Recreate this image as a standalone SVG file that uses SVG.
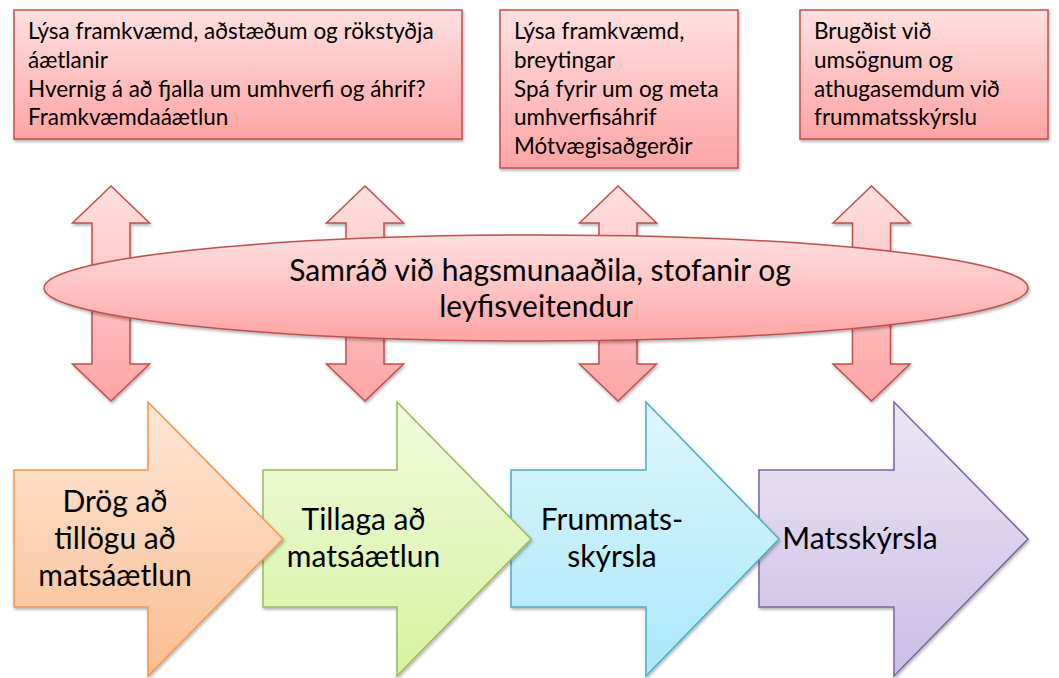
<svg xmlns="http://www.w3.org/2000/svg" width="1059" height="678" viewBox="0 0 1059 678">
  <defs>
    <linearGradient id="gRed" x1="0" y1="0" x2="0" y2="1">
      <stop offset="0" stop-color="#FFE0E0"/>
      <stop offset="1" stop-color="#FFA4A4"/>
    </linearGradient>
    <linearGradient id="gOrange" x1="0" y1="0" x2="0" y2="1">
      <stop offset="0" stop-color="#FDE8D8"/>
      <stop offset="1" stop-color="#FABD92"/>
    </linearGradient>
    <linearGradient id="gGreen" x1="0" y1="0" x2="0" y2="1">
      <stop offset="0" stop-color="#F1FADF"/>
      <stop offset="1" stop-color="#D6F2A0"/>
    </linearGradient>
    <linearGradient id="gBlue" x1="0" y1="0" x2="0" y2="1">
      <stop offset="0" stop-color="#DFF6FD"/>
      <stop offset="1" stop-color="#A9E7FA"/>
    </linearGradient>
    <linearGradient id="gPurple" x1="0" y1="0" x2="0" y2="1">
      <stop offset="0" stop-color="#ECE6F5"/>
      <stop offset="1" stop-color="#CCBDE5"/>
    </linearGradient>
    <filter id="shadow" x="-10%" y="-10%" width="120%" height="130%">
      <feDropShadow dx="1" dy="2" stdDeviation="1.5" flood-color="#000" flood-opacity="0.3"/>
    </filter>
  </defs>
  <style>
    .red { fill: url(#gRed); stroke: #C0504D; stroke-width: 1.5; filter: url(#shadow); }
    .box-text { font-family: Lato, "Liberation Sans", sans-serif; font-size: 22.5px; fill: #000; }
    .big-text { font-family: Lato, "Liberation Sans", sans-serif; font-size: 30px; fill: #000; text-anchor: middle; }
    .orange { fill: url(#gOrange); stroke: #F79646; stroke-width: 1.5; filter: url(#shadow); }
    .green { fill: url(#gGreen); stroke: #9BBB59; stroke-width: 1.5; filter: url(#shadow); }
    .blue { fill: url(#gBlue); stroke: #4BACC6; stroke-width: 1.5; filter: url(#shadow); }
    .purple { fill: url(#gPurple); stroke: #8064A2; stroke-width: 1.5; filter: url(#shadow); }
  </style>
  <rect width="1059" height="678" fill="#FFFFFF"/>

  <!-- Top text boxes -->
  <g id="box1">
    <rect class="red" x="14" y="10" width="448" height="129"/>
    <text class="box-text" x="28" y="39">Lýsa framkvæmd, aðstæðum og rökstyðja</text>
    <text class="box-text" x="28" y="68">áætlanir</text>
    <text class="box-text" x="28" y="96.5">Hvernig á að fjalla um umhverfi og áhrif?</text>
    <text class="box-text" x="28" y="125">Framkvæmdaáætlun</text>
  </g>
  <g id="box2">
    <rect class="red" x="500" y="10" width="238" height="158"/>
    <text class="box-text" x="514" y="39">Lýsa framkvæmd,</text>
    <text class="box-text" x="514" y="68">breytingar</text>
    <text class="box-text" x="514" y="96.5">Spá fyrir um og meta</text>
    <text class="box-text" x="514" y="125">umhverfisáhrif</text>
    <text class="box-text" x="514" y="154">Mótvægisaðgerðir</text>
  </g>
  <g id="box3">
    <rect class="red" x="800" y="10" width="248" height="129"/>
    <text class="box-text" x="814" y="39">Brugðist við</text>
    <text class="box-text" x="814" y="68">umsögnum og</text>
    <text class="box-text" x="814" y="96.5">athugasemdum við</text>
    <text class="box-text" x="814" y="125">frummatsskýrslu</text>
  </g>

  <!-- Double-headed arrows (connectors) -->
  <g id="connectors">
    <path class="red" d="M111,186 L149.5,223 L130,223 L130,364 L149.5,364 L111,401 L72.5,364 L92,364 L92,223 L72.5,223 Z"/>
    <path class="red" d="M365,186 L403.5,223 L384,223 L384,364 L403.5,364 L365,401 L326.5,364 L346,364 L346,223 L326.5,223 Z"/>
    <path class="red" d="M618,186 L656.5,223 L637,223 L637,364 L656.5,364 L618,401 L579.5,364 L599,364 L599,223 L579.5,223 Z"/>
    <path class="red" d="M871.5,186 L910,223 L890.5,223 L890.5,364 L910,364 L871.5,401 L833,364 L852.5,364 L852.5,223 L833,223 Z"/>
  </g>

  <!-- Central ellipse -->
  <g id="consultation">
    <ellipse class="red" cx="536" cy="288" rx="492" ry="53"/>
    <text class="big-text" x="540" y="281">Samráð við hagsmunaaðila, stofanir og</text>
    <text class="big-text" x="536" y="317">leyfisveitendur</text>
  </g>

  <!-- Process arrows (drawn right to left so each tip overlaps the next) -->
  <g id="step4">
    <path class="purple" d="M759,470 L894,470 L894,402 L1028,539 L894,676 L894,607 L759,607 Z"/>
    <text class="big-text" x="860" y="549">Matsskýrsla</text>
  </g>
  <g id="step3">
    <path class="blue" d="M511,470 L646,470 L646,402 L779,539 L646,676 L646,607 L511,607 Z"/>
    <text class="big-text" x="612" y="530">Frummats-</text>
    <text class="big-text" x="612" y="567">skýrsla</text>
  </g>
  <g id="step2">
    <path class="green" d="M263,470 L397,470 L397,402 L531,539 L397,676 L397,607 L263,607 Z"/>
    <text class="big-text" x="363.5" y="530">Tillaga að</text>
    <text class="big-text" x="363.5" y="567">matsáætlun</text>
  </g>
  <g id="step1">
    <path class="orange" d="M14,470 L148,470 L148,402 L283,539 L148,676 L148,607 L14,607 Z"/>
    <text class="big-text" x="115" y="512">Drög að</text>
    <text class="big-text" x="115" y="549">tillögu að</text>
    <text class="big-text" x="115" y="586">matsáætlun</text>
  </g>
</svg>
